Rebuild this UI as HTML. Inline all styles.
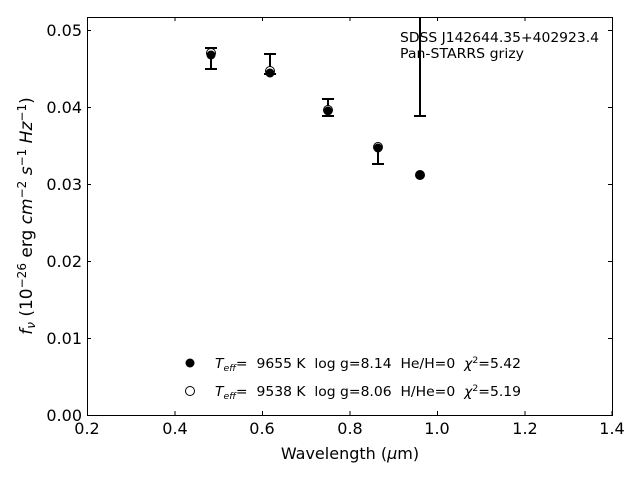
<!DOCTYPE html>
<html><head><meta charset="utf-8"><style>body{margin:0;background:#fff}svg{display:block}text{font-family:"DejaVu Sans","Liberation Sans",sans-serif;white-space:pre}</style></head><body>
<svg width="640" height="480" xmlns="http://www.w3.org/2000/svg" xml:space="preserve">
<rect width="640" height="480" fill="#fff"/>
<g stroke="#000" stroke-width="1" fill="none">
<rect x="87.5" y="17.5" width="525" height="398"/>
<path d="M87.5 415V411M175 415V411M262.5 415V411M350 415V411M437.5 415V411M525 415V411M612 415V411"/>
<path d="M87.5 17V21M175 17V21M262.5 17V21M350 17V21M437.5 17V21M525 17V21"/>
<path d="M87 338.5H91M87 261.5H91M87 184.5H91M87 107.5H91M87 30.5H91"/>
<path d="M612 338.5H608M612 261.5H608M612 184.5H608M612 107.5H608M612 30.5H608"/>
</g>
<g font-size="16" fill="#000" text-anchor="middle">
<text x="87" y="434">0.2</text><text x="175" y="434">0.4</text><text x="262" y="434">0.6</text><text x="350" y="434">0.8</text><text x="437" y="434">1.0</text><text x="525" y="434">1.2</text><text x="612" y="434">1.4</text>
</g>
<g font-size="16" fill="#000" text-anchor="end">
<text x="82" y="421">0.00</text><text x="82" y="344">0.01</text><text x="82" y="267">0.02</text><text x="82" y="190">0.03</text><text x="82" y="113">0.04</text><text x="82" y="36">0.05</text>
</g>
<text x="350" y="459" font-size="16" text-anchor="middle">Wavelength (<tspan font-style="italic">μ</tspan>m)</text>
<text transform="translate(32,216) rotate(-90)" font-size="17" text-anchor="middle"><tspan font-style="italic">f<tspan font-size="12" dy="3">ν</tspan></tspan><tspan dy="-3"> (10</tspan><tspan font-size="12" dy="-6">−26</tspan><tspan dy="6"> erg </tspan><tspan font-style="italic">cm</tspan><tspan font-size="12" dy="-6">−2</tspan><tspan dy="6" font-style="italic"> s</tspan><tspan font-size="12" dy="-6">−1</tspan><tspan dy="6" font-style="italic"> Hz</tspan><tspan font-size="12" dy="-6">−1</tspan><tspan dy="6">)</tspan></text>
<text x="400" y="42" font-size="13.5" textLength="199" lengthAdjust="spacingAndGlyphs">SDSS J142644.35+402923.4</text>
<text x="400" y="58" font-size="13.5" textLength="124" lengthAdjust="spacingAndGlyphs">Pan-STARRS grizy</text>
<g stroke="#000" stroke-width="2" fill="none">
<path d="M211 48V69M205 48H217M205 69H217"/>
<path d="M270 54V74M264 54H276M264 74H276"/>
<path d="M328 99V116M322 99H334M322 116H334"/>
<path d="M378 148V164M372 164H384"/>
<path d="M420 17V116M414 116H426"/>
</g>
<g fill="#fff" stroke="#000" stroke-width="1">
<circle cx="211" cy="53" r="4.5"/><circle cx="270" cy="71" r="4.5"/><circle cx="328" cy="110" r="4.5"/><circle cx="378" cy="147" r="4.5"/><circle cx="420" cy="175" r="4.5"/>
</g>
<g fill="#000">
<circle cx="211" cy="55" r="4.5"/><circle cx="270" cy="73" r="4.5"/><circle cx="328" cy="111" r="4.5"/><circle cx="378" cy="148" r="4.5"/><circle cx="420" cy="175" r="4.5"/>
</g>
<circle cx="190" cy="363" r="4.5" fill="#000"/>
<circle cx="190" cy="391" r="4.5" fill="#fff" stroke="#000"/>
<text x="215" y="368" font-size="13.5" textLength="306" lengthAdjust="spacingAndGlyphs"><tspan font-style="italic">T<tspan font-size="9" dy="3">eff</tspan></tspan><tspan dy="-3">=  9655 K  log g=8.14  He/H=0  </tspan><tspan font-style="italic">χ</tspan><tspan font-size="9" dy="-5">2</tspan><tspan dy="5">=5.42</tspan></text>
<text x="215" y="396" font-size="13.5" textLength="306" lengthAdjust="spacingAndGlyphs"><tspan font-style="italic">T<tspan font-size="9" dy="3">eff</tspan></tspan><tspan dy="-3">=  9538 K  log g=8.06  H/He=0  </tspan><tspan font-style="italic">χ</tspan><tspan font-size="9" dy="-5">2</tspan><tspan dy="5">=5.19</tspan></text>
</svg>
</body></html>
